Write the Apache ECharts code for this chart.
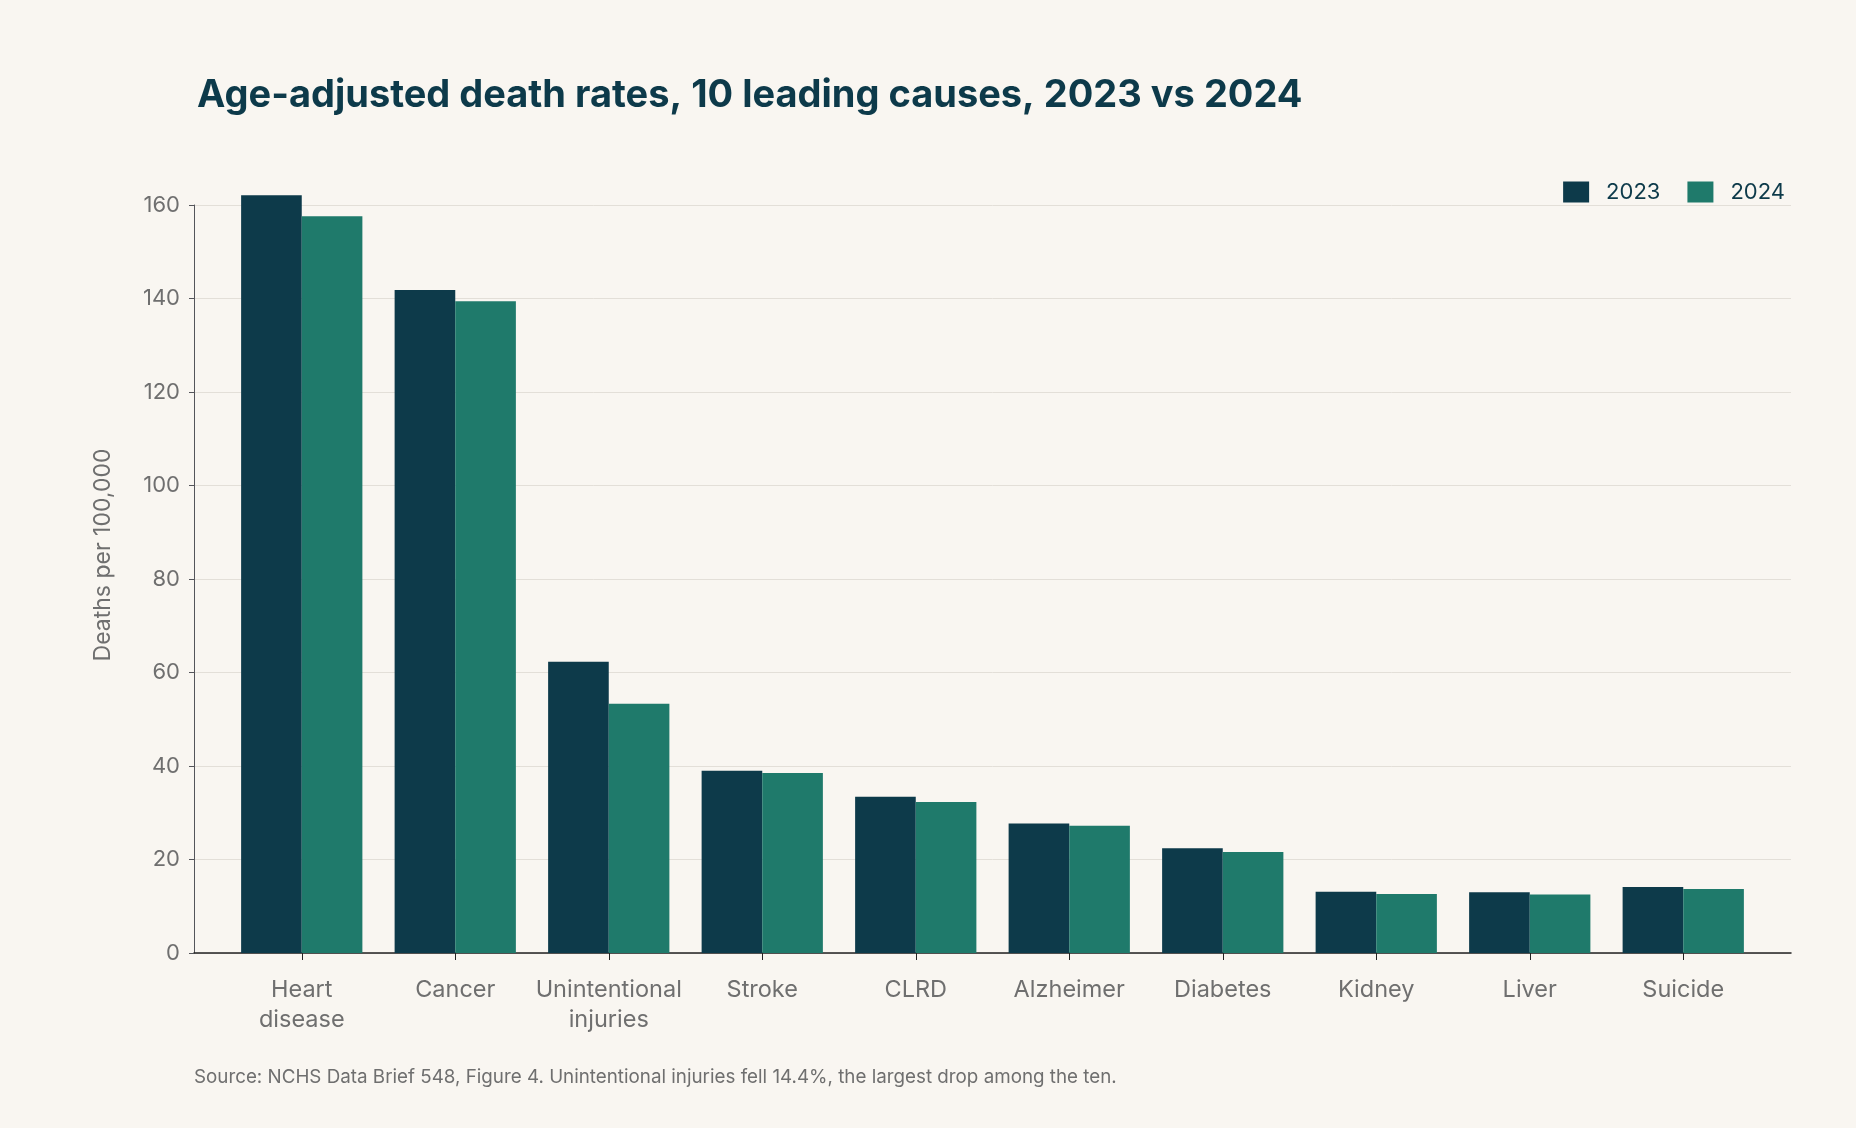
<!DOCTYPE html>
<html><head><meta charset="utf-8">
<script src="https://cdn.jsdelivr.net/npm/echarts@6/dist/echarts.min.js"></script>
<style>html,body{margin:0;background:#f9f6f1}#c{width:1856px;height:1128px}</style>
</head><body><div id="c"></div>
<script>
// data
var causes = ['Heart\ndisease', 'Cancer', 'Unintentional\ninjuries', 'Stroke', 'CLRD', 'Alzheimer', 'Diabetes', 'Kidney', 'Liver', 'Suicide'];
var rates2023 = [162.1, 141.8, 62.3, 39.0, 33.4, 27.7, 22.4, 13.1, 13.0, 14.1];
var rates2024 = [157.6, 139.4, 53.3, 38.5, 32.3, 27.2, 21.6, 12.6, 12.5, 13.7];

var chart = echarts.init(document.getElementById('c'));
var grey = '#6f6f6f';
chart.setOption({
  backgroundColor: '#f9f6f1',
  textStyle: { fontFamily: 'Inter' },
  title: {
    text: 'Age-adjusted death rates, 10 leading causes, 2023 vs 2024',
    left: 192, top: 72,
    textStyle: { fontFamily: 'Inter', fontSize: 38, fontWeight: 'bold', color: '#0d3a4a' }
  },
  legend: {
    right: 66, top: 176, itemWidth: 26, itemHeight: 21, itemGap: 27,
    icon: 'rect',
    textStyle: { fontSize: 22, color: '#0d3a4a', padding: [0, 0, 0, 12] },
    data: ['2023', '2024']
  },
  graphic: [{
    type: 'text', left: 194, top: 1068,
    style: { text: 'Source: NCHS Data Brief 548, Figure 4. Unintentional injuries fell 14.4%, the largest drop among the ten.',
      fill: grey, fontSize: 18.8, fontFamily: 'Inter' }
  }, {
    type: 'text', x: 92, y: 555, rotation: Math.PI / 2,
    style: { text: 'Deaths per 100,000', fill: grey, fontSize: 23, fontFamily: 'Inter',
      align: 'center', verticalAlign: 'top' }
  }],
  grid: [
    { left: 194, right: 65, top: 205, bottom: 175 },
    { left: 225, right: 96, top: 205, bottom: 175 }
  ],
  xAxis: [{
    type: 'value', gridIndex: 0, min: 0, max: 1, show: true,
    axisLine: { show: true, onZero: false, lineStyle: { color: '#222', width: 1.5 } },
    axisTick: { show: false }, axisLabel: { show: false }, splitLine: { show: false }
  }, {
    type: 'category', gridIndex: 1, data: causes,
    axisLine: { show: false },
    axisTick: { show: true, alignWithLabel: true, length: 7, lineStyle: { color: '#222' } },
    axisLabel: { fontSize: 23.5, color: grey, margin: 22, lineHeight: 30, interval: 0 }
  }],
  yAxis: [{
    type: 'value', gridIndex: 0, min: 0, max: 160, interval: 20,
    axisLabel: { fontSize: 22, color: grey, margin: 14 },
    splitLine: { lineStyle: { color: '#e3dfd8' } }
  }, {
    type: 'value', gridIndex: 1, min: 0, max: 160, interval: 20, show: false,
    splitLine: { show: false }
  }],
  series: [
    { name: '2023', type: 'bar', xAxisIndex: 1, yAxisIndex: 1, data: rates2023, clip: false,
      barGap: '0%', barCategoryGap: '21%', itemStyle: { color: '#0d3a4a' } },
    { name: '2024', type: 'bar', xAxisIndex: 1, yAxisIndex: 1, data: rates2024, clip: false,
      itemStyle: { color: '#1f7a6b' } }
  ]
});
</script></body></html>
